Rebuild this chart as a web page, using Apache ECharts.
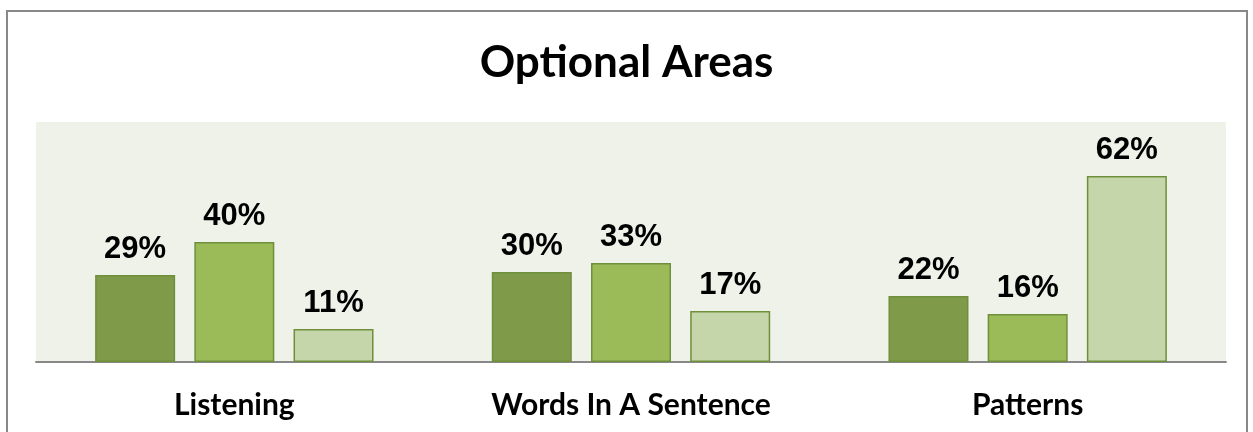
<!DOCTYPE html>
<html>
<head>
<meta charset="utf-8">
<script src="https://cdn.jsdelivr.net/npm/echarts@6/dist/echarts.min.js"></script>
<style>
  html, body { margin: 0; padding: 0; background: #fff; }
  #frame { position: absolute; left: 6px; top: 10px; width: 1242px; height: 440px; border: 2px solid #888; border-bottom: none; box-sizing: border-box; }
  #chart { position: absolute; left: 0; top: 0; width: 1253px; height: 432px; }
</style>
</head>
<body>
<div id="frame"></div>
<div id="chart"></div>
<script>
var categories = ['Listening', 'Words In A Sentence', 'Patterns'];
var seriesA = [29, 30, 22];
var seriesB = [40, 33, 16];
var seriesC = [11, 17, 62];

var myChart = echarts.init(document.getElementById('chart'));

function bar(name, data, color) {
    return {
        name: name,
        type: 'bar',
        data: data,
        barWidth: 80,
        barGap: '24%',
        itemStyle: {
            color: color,
            borderColor: '#6f8f3a',
            borderWidth: 1.5
        },
        label: {
            show: true,
            position: 'top',
            distance: 10,
            formatter: '{c}%',
            fontFamily: 'Liberation Sans',
            fontWeight: 'bold',
            fontSize: 31,
            color: '#000'
        }
    };
}

var option = {
    animation: false,
    title: {
        text: 'Optional Areas',
        left: 'center',
        top: 36,
        textStyle: {
            fontFamily: 'Lato',
            fontWeight: 'bold',
            fontSize: 44,
            color: '#000'
        }
    },
    grid: {
        left: 36,
        right: 27,
        top: 122,
        bottom: 70,
        show: true,
        backgroundColor: '#eff2e9',
        borderWidth: 0
    },
    xAxis: {
        type: 'category',
        data: categories,
        axisTick: { show: false },
        axisLine: { lineStyle: { color: '#888', width: 2 } },
        axisLabel: {
            margin: 28,
            fontFamily: 'Lato',
            fontWeight: 'bold',
            fontSize: 30,
            color: '#000'
        }
    },
    yAxis: {
        type: 'value',
        min: 0,
        max: 80,
        show: false,
        splitLine: { show: false }
    },
    series: [
        bar('A', seriesA, '#7f9a48'),
        bar('B', seriesB, '#9bbb59'),
        bar('C', seriesC, '#c5d6aa')
    ]
};
myChart.setOption(option);
</script>
</body>
</html>
